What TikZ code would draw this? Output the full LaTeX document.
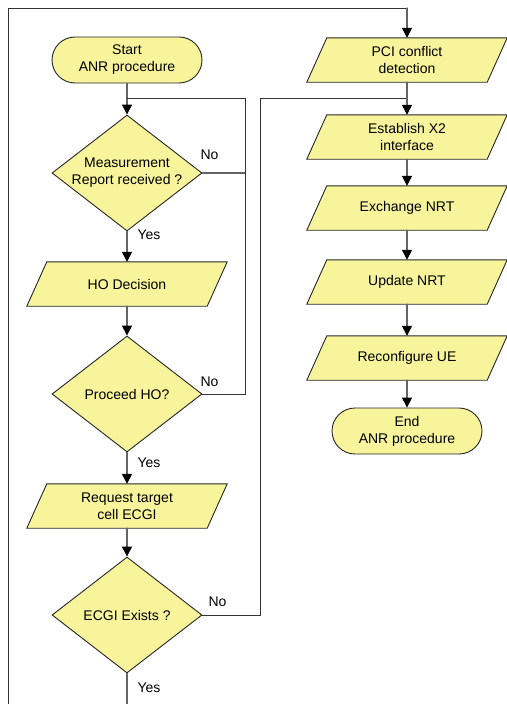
\documentclass[tikz,border=0pt]{standalone}
\usepackage{fontspec}
\setmainfont{Liberation Sans}
\usepackage{tikz}
\usetikzlibrary{arrows.meta}
\usetikzlibrary{backgrounds}
\usetikzlibrary{shapes.geometric,shapes.misc,positioning}

\definecolor{boxfill}{RGB}{248,244,156}
\definecolor{linegray}{RGB}{100,100,100}

\tikzset{every node/.style={font=\fontsize{14}{17}\selectfont},
  flowbox/.style={draw=black!85,line width=0.9pt,fill=boxfill,align=center},
  terminal/.style={flowbox,rounded rectangle,minimum width=150pt,minimum height=46pt,inner sep=0pt},
  iobox/.style={align=center,minimum width=180pt,minimum height=44pt,inner sep=0pt},
  decision/.style={flowbox,diamond,aspect=1.3,minimum width=150pt,minimum height=116pt,inner sep=0pt},
  flow/.style={draw=linegray,line width=1.3pt},
  flowarrow/.style={flow,-{Triangle[width=10pt,length=10pt,color=black]}},
  flowloop/.style={draw=black!80,line width=1pt}}

\begin{document}
\begin{tikzpicture}[x=1pt,y=-1pt,line cap=round]

  \useasboundingbox (0,0) rectangle (506,704);

  % left column
  \node [terminal] (start) at (127,60) {Start\\ANR procedure};
  \node [decision] (report) at (127,173) {Measurement\\Report received ?};
  \node [iobox] (hodec) at (127,284) {HO Decision};
  \node [decision] (proceed) at (127,394) {Proceed HO?};
  \node [iobox] (request) at (127,506) {Request target\\cell ECGI};
  \node [decision] (exists) at (127,615) {ECGI Exists ?};

  % right column
  \node [iobox] (pci) at (407,60) {PCI conflict\\detection};
  \node [iobox] (xtwo) at (407,137) {Establish X2\\interface};
  \node [iobox] (exchange) at (407,208) {Exchange NRT};
  \node [iobox] (update) at (407,282) {Update NRT};
  \node [iobox] (reconf) at (407,358) {Reconfigure UE};
  \node [terminal] (finish) at (407,431) {End\\ANR procedure};

  % parallelograms behind the io texts
  \begin{scope}[on background layer]
    \foreach \io in {hodec,request,pci,xtwo,exchange,update,reconf}
      \draw [flowbox] ([xshift=-10pt]\io.south west) -- ([xshift=-10pt]\io.south east)
        -- ([xshift=10pt]\io.north east) -- ([xshift=10pt]\io.north west) -- cycle;
  \end{scope}

  \coordinate (leftjoin) at (127,98);
  \coordinate (rightjoin) at (407,98);
  \coordinate (loopcorner) at (245,98);
  \coordinate (exitcorner) at (260,98);
  \coordinate (bottomexit) at (127,704);
  \coordinate (framebottom) at (8,704);
  \coordinate (frametop) at (8,8);

  \draw [flow] (start) -- (leftjoin);
  \draw [flowarrow] (leftjoin) -- (report);
  \draw [flowarrow] (report) -- (hodec);
  \draw [flowarrow] (hodec) -- (proceed);
  \draw [flowarrow] (proceed) -- (request);
  \draw [flowarrow] (request) -- (exists);
  \draw [flow] (exists) -- (bottomexit);

  \draw [flow] (report.east) -- (report.east -| loopcorner);
  \draw [flowloop] (proceed.east) -| (loopcorner) -- (leftjoin);
  \draw [flowloop] (exists.east) -| (exitcorner) -- (rightjoin);

  \draw [flowloop] (framebottom) -- (frametop) -- (407,8);
  \draw [flowarrow] (407,8) -- (pci);
  \draw [flow] (pci) -- (rightjoin);
  \draw [flowarrow] (rightjoin) -- (xtwo);
  \draw [flowarrow] (xtwo) -- (exchange);
  \draw [flowarrow] (exchange) -- (update);
  \draw [flowarrow] (update) -- (reconf);
  \draw [flowarrow] (reconf) -- (finish);

  \node [anchor=west] (noa) at (197,155) {No};
  \node [anchor=west] (nob) at (197,382) {No};
  \node [anchor=west] (noc) at (205,602) {No};
  \node [anchor=west] (yesa) at (134,235) {Yes};
  \node [anchor=west] (yesb) at (134,463) {Yes};
  \node [anchor=west] (yesc) at (134,688) {Yes};

\end{tikzpicture}
\end{document}
